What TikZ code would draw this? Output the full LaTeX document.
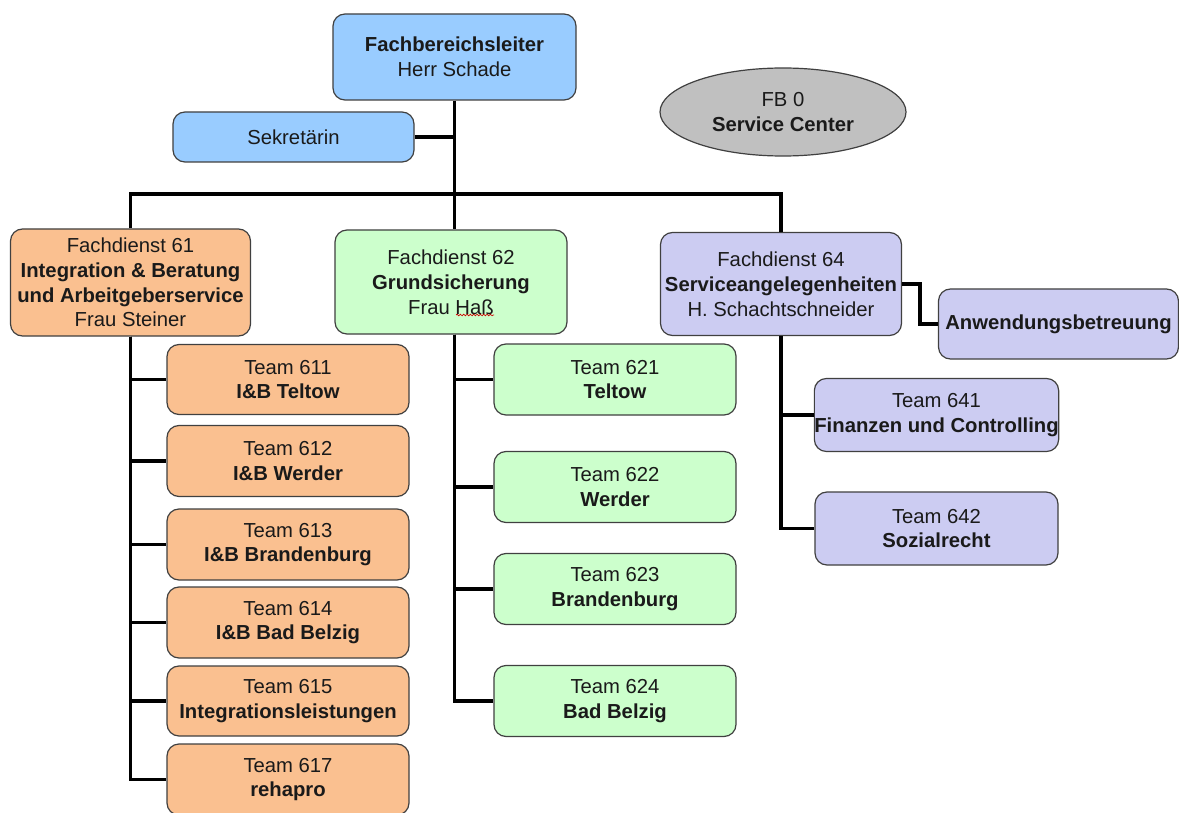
\documentclass[tikz,border=0pt]{standalone}
\usepackage{fontspec}
\setmainfont{Liberation Sans}
\usetikzlibrary{shapes.geometric,calc,decorations.pathmorphing}
\definecolor{cblue}{HTML}{99CCFF}
\definecolor{corange}{HTML}{FAC090}
\definecolor{cgreen}{HTML}{CCFFCC}
\definecolor{clav}{HTML}{CCCCF2}
\definecolor{cgray}{HTML}{C0C0C0}
\definecolor{cborder}{HTML}{404040}
\definecolor{ctext}{HTML}{1A1A1A}
\begin{document}
\begin{tikzpicture}[x=0.75pt,y=-0.75pt,
  wh/.style 2 args={minimum width=#1*0.75pt, minimum height=#2*0.75pt},
  box/.style={draw=cborder, line width=0.9pt, rounded corners=9pt, align=center,
    inner sep=0pt, font=\fontsize{15.2}{18.6}\selectfont, text=ctext},
  bluebox/.style={box, fill=cblue},
  orbox/.style={box, fill=corange},
  grbox/.style={box, fill=cgreen},
  lavbox/.style={box, fill=clav},
  conn/.style={line width=2.3pt, black}]
\useasboundingbox[fill=white] (0,0) rectangle (1179,813);

% top level
\node[bluebox, wh={243}{86}] (fbl) at (454.5,57) {\textbf{Fachbereichsleiter}\\Herr Schade};
\node[bluebox, wh={241}{50}] (sek) at (293.5,137) {Sekretärin};
\node[ellipse, draw=cborder, line width=0.9pt, fill=cgray, wh={246}{88}, align=center,
  inner sep=0pt, font=\fontsize{15.2}{18.6}\selectfont, text=ctext] (sc) at (783,112) {FB 0\\\textbf{Service Center}};

% Fachdienste
\node[orbox, wh={240}{107}] (fd61) at (130.5,282.5) {Fachdienst 61\\\textbf{Integration \& Beratung}\\\textbf{und Arbeitgeberservice}\\Frau Steiner};
\node[grbox, wh={232}{104}] (fd62) at (451,282) {Fachdienst 62\\\textbf{Grundsicherung}\\Frau Haß};
\node[lavbox, wh={241}{103}] (fd64) at (781,284) {Fachdienst 64\\\textbf{Serviceangelegenheiten}\\H. Schachtschneider};
\node[lavbox, wh={240}{70}] (anw) at (1058.5,324) {\textbf{Anwendungsbetreuung}};

% Teams 61x
\node[orbox, wh={242}{70}] (t611) at (288,379.5) {Team 611\\\textbf{I\&B Teltow}};
\node[orbox, wh={242}{71}] (t612) at (288,461) {Team 612\\\textbf{I\&B Werder}};
\node[orbox, wh={242}{71}] (t613) at (288,544.5) {Team 613\\\textbf{I\&B Brandenburg}};
\node[orbox, wh={242}{71}] (t614) at (288,622.5) {Team 614\\\textbf{I\&B Bad Belzig}};
\node[orbox, wh={242}{70}] (t615) at (288,701) {Team 615\\\textbf{Integrationsleistungen}};
\node[orbox, wh={242}{71}] (t617) at (288,779.5) {Team 617\\\textbf{rehapro}};

% Teams 62x
\node[grbox, wh={242}{71}] (t621) at (615,379.5) {Team 621\\\textbf{Teltow}};
\node[grbox, wh={242}{71}] (t622) at (615,487) {Team 622\\\textbf{Werder}};
\node[grbox, wh={242}{71}] (t623) at (615,589) {Team 623\\\textbf{Brandenburg}};
\node[grbox, wh={242}{71}] (t624) at (615,701) {Team 624\\\textbf{Bad Belzig}};

% Teams 64x
\node[lavbox, wh={243}{73}] (t641) at (936.5,415) {Team 641\\\textbf{Finanzen und Controlling}};
\node[lavbox, wh={243}{73}] (t642) at (936.5,528.5) {Team 642\\\textbf{Sozialrecht}};

% spell-check underline
\draw[red!80!black, line width=0.5pt, decorate, decoration={snake, amplitude=0.6pt, segment length=2.5pt}]
  ($(fd62.center)+(5,33)$) -- ($(fd62.center)+(43,33)$);

% connectors
\coordinate (bus) at (454.5,194);
\draw[conn] (fbl.south) -- (fbl.south |- fd62.north);
\draw[conn] (sek.east) -- (sek.east -| fbl.south);
\draw[conn] (fd61.north) |- (bus) -| (fd64.north);

\draw[conn] (fd61.south) |- (t611.west);
\draw[conn] (fd61.south) |- (t612.west);
\draw[conn] (fd61.south) |- (t613.west);
\draw[conn] (fd61.south) |- (t614.west);
\draw[conn] (fd61.south) |- (t615.west);
\draw[conn] (fd61.south) |- (t617.west);

\coordinate (f62s) at (fbl.south |- fd62.south);
\draw[conn] (f62s) |- (t621.west);
\draw[conn] (f62s) |- (t622.west);
\draw[conn] (f62s) |- (t623.west);
\draw[conn] (f62s) |- (t624.west);

\draw[conn] (fd64.south) |- (t641.west);
\draw[conn] (fd64.south) |- (t642.west);
\draw[conn] (fd64.east) -| ($(fd64.east)!0.5!(anw.west)$) |- (anw.west);
\end{tikzpicture}
\end{document}
